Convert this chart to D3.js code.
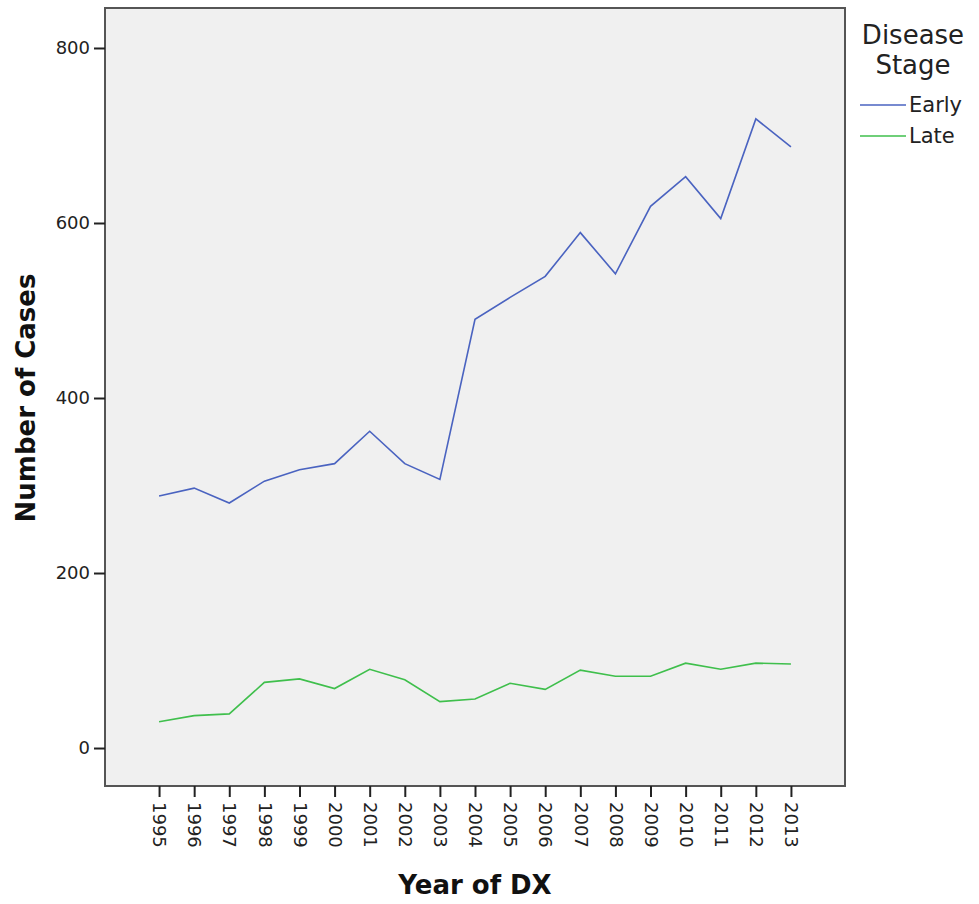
<!DOCTYPE html>
<html>
<head>
<meta charset="utf-8">
<script src="https://cdn.jsdelivr.net/npm/d3@7"></script>
<style>
  body { margin: 0; background: #fff; }
  text { font-family: "DejaVu Sans", sans-serif; }
</style>
</head>
<body>
<div id="chart"></div>
<script>
// data
const years = [1995, 1996, 1997, 1998, 1999, 2000, 2001, 2002, 2003, 2004,
               2005, 2006, 2007, 2008, 2009, 2010, 2011, 2012, 2013];
const earlyCases = [288, 297, 280, 305, 318, 325, 362, 325, 307, 490,
                    515, 539, 589, 542, 619, 653, 605, 719, 687];
const lateCases = [30, 37, 39, 75, 79, 68, 90, 78, 53, 56,
                   74, 67, 89, 82, 82, 97, 90, 97, 96];
const stageNames = ["Early", "Late"];
const yTicks = [0, 200, 400, 600, 800];

function draw() {
  // 1. measurements
  const dimensions = {
    width: 979,
    height: 904,
    margin: { top: 8, right: 134, bottom: 118, left: 105 }
  };
  dimensions.boundedWidth = dimensions.width - dimensions.margin.left - dimensions.margin.right;
  dimensions.boundedHeight = dimensions.height - dimensions.margin.top - dimensions.margin.bottom;

  // 2. canvas
  const wrapper = d3.select("#chart")
    .append("svg")
    .attr("width", dimensions.width)
    .attr("height", dimensions.height);

  const bounds = wrapper.append("g")
    .attr("transform", `translate(${dimensions.margin.left},${dimensions.margin.top})`);

  // 3. series
  const series = [
    { name: stageNames[0], color: "#4a63c0", values: earlyCases },
    { name: stageNames[1], color: "#3fbf4c", values: lateCases }
  ];

  // 4. scales
  const xScale = d3.scalePoint()
    .domain(years)
    .range([0, dimensions.boundedWidth])
    .padding(1.54);

  const yScale = d3.scaleLinear()
    .domain([-43.4, 845.7])
    .range([dimensions.boundedHeight, 0]);

  // plot background
  bounds.append("rect")
    .attr("width", dimensions.boundedWidth)
    .attr("height", dimensions.boundedHeight)
    .attr("fill", "#f0f0f0");

  // 5. lines
  const lineGenerator = d3.line()
    .x((d, i) => xScale(years[i]))
    .y(d => yScale(d));

  bounds.selectAll(".series")
    .data(series)
    .join("path")
    .attr("class", "series")
    .attr("d", d => lineGenerator(d.values))
    .attr("fill", "none")
    .attr("stroke", d => d.color)
    .attr("stroke-width", 1.6);

  // frame
  bounds.append("rect")
    .attr("width", dimensions.boundedWidth)
    .attr("height", dimensions.boundedHeight)
    .attr("fill", "none")
    .attr("stroke", "#555")
    .attr("stroke-width", 2);

  // 6. axes
  const yAxisGenerator = d3.axisLeft(yScale)
    .tickValues(yTicks)
    .tickSize(11)
    .tickPadding(4);

  const yAxis = bounds.append("g").call(yAxisGenerator);
  yAxis.select(".domain").remove();
  yAxis.selectAll(".tick line").attr("stroke", "#222").attr("stroke-width", 2);
  yAxis.selectAll(".tick text")
    .attr("font-size", 18)
    .attr("font-family", "DejaVu Sans, sans-serif")
    .attr("fill", "#222");

  const xAxisGenerator = d3.axisBottom(xScale)
    .tickSize(11)
    .tickPadding(5);

  const xAxis = bounds.append("g")
    .attr("transform", `translate(0,${dimensions.boundedHeight})`)
    .call(xAxisGenerator);
  xAxis.select(".domain").remove();
  xAxis.selectAll(".tick line").attr("stroke", "#222").attr("stroke-width", 2);
  xAxis.selectAll(".tick text")
    .attr("font-size", 18)
    .attr("font-family", "DejaVu Sans, sans-serif")
    .attr("fill", "#222")
    .attr("transform", "rotate(90)")
    .attr("x", 16)
    .attr("y", 0)
    .attr("dy", "0.35em")
    .attr("text-anchor", "start");

  // axis titles
  wrapper.append("text")
    .attr("transform", `translate(35,${dimensions.margin.top + yScale(400)}) rotate(-90)`)
    .attr("text-anchor", "middle")
    .attr("font-size", 26)
    .attr("font-weight", "bold")
    .attr("fill", "#111")
    .text("Number of Cases");

  wrapper.append("text")
    .attr("x", dimensions.margin.left + dimensions.boundedWidth / 2)
    .attr("y", 894)
    .attr("text-anchor", "middle")
    .attr("font-size", 26)
    .attr("font-weight", "bold")
    .attr("fill", "#111")
    .text("Year of DX");

  // 7. legend
  const legend = wrapper.append("g")
    .attr("transform", `translate(${dimensions.width - dimensions.margin.right + 15},0)`);

  legend.append("text")
    .attr("x", 53).attr("y", 44)
    .attr("text-anchor", "middle")
    .attr("font-size", 26)
    .attr("fill", "#222")
    .text("Disease");
  legend.append("text")
    .attr("x", 53).attr("y", 74)
    .attr("text-anchor", "middle")
    .attr("font-size", 26)
    .attr("fill", "#222")
    .text("Stage");

  const legendItems = legend.selectAll(".item")
    .data(series)
    .join("g")
    .attr("class", "item")
    .attr("transform", (d, i) => `translate(0,${105 + i * 31})`);

  legendItems.append("line")
    .attr("x1", 0).attr("x2", 46)
    .attr("stroke", d => d.color)
    .attr("stroke-width", 1.6);

  legendItems.append("text")
    .attr("x", 49)
    .attr("dy", "0.35em")
    .attr("font-size", 21)
    .attr("fill", "#222")
    .text(d => d.name);
}
draw();
</script>
</body>
</html>
